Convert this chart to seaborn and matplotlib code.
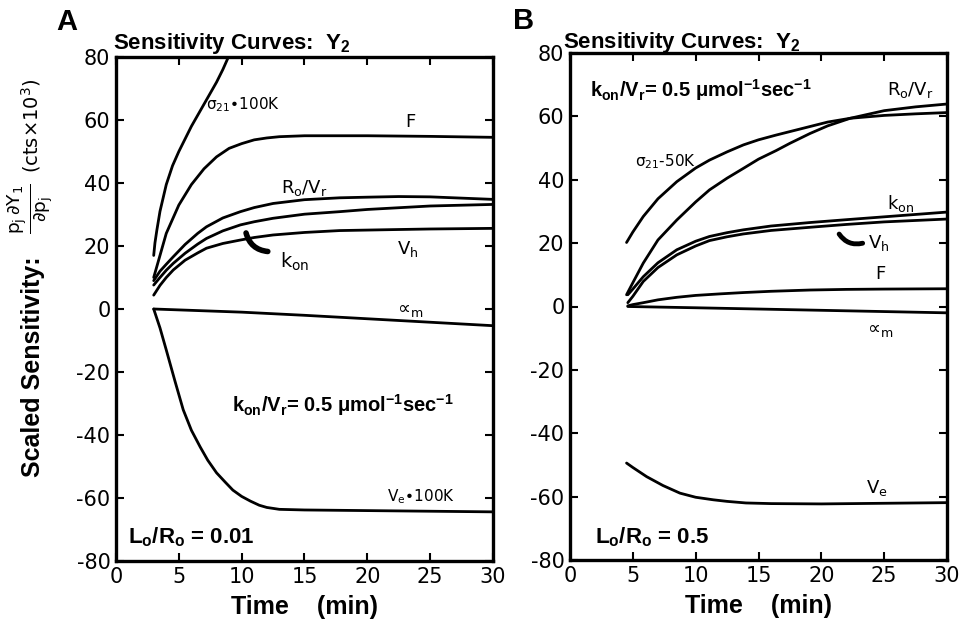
import matplotlib
matplotlib.use('Agg')
import matplotlib.pyplot as plt
import seaborn as sns

# ---- panel A: Lo/Ro = 0.01 ----
sig_a_t = [3.0, 3.1, 3.25, 3.5, 4.0, 4.5, 5.0, 5.5, 6.0, 6.5, 7.0, 7.5, 8.0, 8.5, 9.0]
sig_a_y = [17, 21, 25, 31, 39.5, 45.5, 50, 54, 58, 61.5, 65, 68.5, 72, 76, 80.5]

f_a_t = [3, 3.5, 4, 5, 6, 7, 8, 9, 10, 11, 12, 13, 15, 20, 25, 30]
f_a_y = [10, 17, 24, 33, 39.5, 44.5, 48.3, 51, 52.5, 53.7, 54.3, 54.7, 55, 55, 54.8, 54.5]

ro_a_t = [3, 3.5, 4, 4.56, 5.5, 6.5, 7.2, 8.5, 9.9, 11, 12.5, 15, 17.8, 20, 22.5, 25, 30]
ro_a_y = [9, 12, 14.2, 16.6, 20.5, 24, 26.1, 28.9, 30.9, 32.2, 33.5, 34.7, 35.3, 35.5, 35.7, 35.6, 34.8]

kon_a_t = [3, 3.5, 4, 4.56, 5.5, 6.5, 7.2, 8.5, 9.9, 11, 12.5, 15, 17.8, 20, 25, 30]
kon_a_y = [7.6, 10, 12.3, 14.5, 17.7, 20.6, 22.4, 24.8, 26.7, 27.7, 28.8, 30.1, 30.9, 31.6, 32.7, 33.2]

vh_a_t = [3, 3.5, 4, 4.56, 5.5, 6.5, 7.2, 8.5, 9.9, 11, 12.5, 15, 17.8, 22, 25, 30]
vh_a_y = [4.4, 7.5, 10, 12.4, 15.5, 17.8, 19.3, 20.8, 21.9, 22.7, 23.5, 24.3, 24.9, 25.2, 25.4, 25.6]

am_a_t = [3, 10, 15, 20, 25, 30]
am_a_y = [0, -1.0, -2.0, -3.1, -4.2, -5.3]

ve_a_t = [3, 3.5, 4, 4.7, 5.35, 6, 6.7, 7.3, 8, 8.7, 9.3, 10, 10.7, 11.4, 12, 13, 15, 20, 25, 30]
ve_a_y = [0, -6, -13, -23, -32, -38.5, -43.8, -48, -52, -55, -57.5, -59.5, -61, -62.3, -63, -63.6, -63.8, -64, -64.2, -64.4]

# ---- panel B: Lo/Ro = 0.5 ----
sig_b_t = [4.5, 5, 5.83, 7, 8.5, 10, 11.1, 12.5, 13.8, 15, 16.4, 18, 19.1, 20.5, 22.3, 25, 27.5, 30]
sig_b_y = [20.2, 23.5, 28.4, 34, 39.4, 43.7, 46.2, 48.8, 51, 52.6, 54.1, 55.7, 56.8, 58.2, 59.4, 60.3, 60.8, 61.2]

ro_b_t = [4.5, 5, 5.83, 7, 8.5, 10, 11.1, 12.5, 13.8, 15, 16.4, 17.5, 19.1, 20.5, 22.3, 25, 27.5, 30]
ro_b_y = [3.7, 7.5, 13.7, 21, 27.3, 33, 36.8, 40.5, 43.6, 46.5, 49.2, 51.5, 54.6, 57, 59.4, 61.8, 63, 63.9]

kon_b_t = [4.6, 5, 5.83, 7, 8.5, 10, 11.1, 12.5, 13.8, 16, 19.1, 22, 25, 30]
kon_b_y = [3.7, 5.5, 9.4, 13.8, 17.9, 20.6, 22.1, 23.3, 24.2, 25.4, 26.5, 27.4, 28.3, 29.8]

vh_b_t = [4.6, 5, 5.83, 7, 8.5, 10, 11.1, 12.5, 13.8, 16, 19.1, 22, 25, 30]
vh_b_y = [1.2, 3.2, 7.9, 12.3, 16.3, 19.1, 20.8, 22.0, 22.9, 24.0, 25.0, 25.9, 26.7, 27.6]

f_b_t = [4.6, 5, 5.83, 7, 8.5, 10, 12, 13.8, 16, 19.1, 22, 25, 30]
f_b_y = [0.2, 0.6, 1.2, 2.1, 2.9, 3.5, 4.0, 4.4, 4.8, 5.2, 5.4, 5.5, 5.6]

am_b_t = [4.6, 10, 15, 20, 25, 30]
am_b_y = [0, -0.4, -0.8, -1.2, -1.6, -2.0]

ve_b_t = [4.5, 5, 6.1, 7.4, 8.75, 10, 11.4, 12.5, 14, 16, 20, 25, 30]
ve_b_y = [-49.4, -50.8, -53.7, -56.5, -58.9, -60.2, -61.0, -61.5, -62.0, -62.2, -62.3, -62.1, -61.9]

x_ticks = [0, 5, 10, 15, 20, 25, 30]
y_ticks = [-80, -60, -40, -20, 0, 20, 40, 60, 80]

sns.set_style('ticks')
plt.rcParams['font.family'] = ['DejaVu Sans']
plt.rcParams['mathtext.default'] = 'regular'
plt.rcParams['axes.linewidth'] = 2.4
plt.rcParams['axes.unicode_minus'] = False
for k in ['text.color', 'axes.labelcolor', 'xtick.color', 'ytick.color', 'axes.edgecolor']:
    plt.rcParams[k] = 'black'

BOLD = ['Liberation Sans', 'DejaVu Sans']

fig = plt.figure(figsize=(9.7, 6.31), dpi=100)
ax_a = fig.add_axes([116 / 970, 1 - 561 / 631, 377 / 970, 504 / 631])
ax_b = fig.add_axes([570 / 970, 1 - 560 / 631, 377 / 970, 507 / 631])


def draw(ax, series):
    for t, y in series:
        sns.lineplot(x=t, y=y, ax=ax, color='black', lw=2.0, sort=False)
    ax.set_xlim(0, 30)
    ax.set_ylim(-80, 80)
    ax.set_xticks(x_ticks)
    ax.set_yticks(y_ticks)
    ax.tick_params(direction='in', top=True, right=True, length=6, width=1.5,
                   labelsize=15, pad=4)
    ax.set_xlabel('Time    (min)', fontsize=18, fontweight='bold', family=BOLD, labelpad=6)
    ax.set_ylabel('')
    for s in ax.spines.values():
        s.set_visible(True)


draw(ax_a, [(sig_a_t, sig_a_y), (f_a_t, f_a_y), (ro_a_t, ro_a_y), (kon_a_t, kon_a_y),
            (vh_a_t, vh_a_y), (am_a_t, am_a_y), (ve_a_t, ve_a_y)])
draw(ax_b, [(sig_b_t, sig_b_y), (ro_b_t, ro_b_y), (kon_b_t, kon_b_y), (vh_b_t, vh_b_y),
            (f_b_t, f_b_y), (am_b_t, am_b_y), (ve_b_t, ve_b_y)])

# panel letters and titles
fig.text(67 / 970, 1 - 22 / 631, 'A', fontsize=21, fontweight='bold', family=BOLD, ha='center', va='center')
fig.text(524 / 970, 1 - 21 / 631, 'B', fontsize=21, fontweight='bold', family=BOLD, ha='center', va='center')
fig.text(113 / 970, 1 - 49 / 631, 'Sensitivity Curves:  Y$_2$', fontsize=16, fontweight='bold',
         family=BOLD, ha='left', va='baseline')
fig.text(563 / 970, 1 - 48 / 631, 'Sensitivity Curves:  Y$_2$', fontsize=16, fontweight='bold',
         family=BOLD, ha='left', va='baseline')

# y axis label
fig.text(33 / 970, 1 - 367 / 631, 'Scaled Sensitivity:', rotation=90, fontsize=18, fontweight='bold',
         family=BOLD, ha='center', va='center')
fig.text(30 / 970, 1 - 209 / 631, r'$\frac{p_j\,\partial Y_1}{\partial p_j}$', rotation=90, fontsize=19,
         ha='center', va='center')
fig.text(31 / 970, 1 - 126 / 631, '(cts×10$^3$)', rotation=90, fontsize=14, ha='center', va='center')

# panel A annotations
lab = dict(fontsize=13, ha='center', va='center')
ax_a.text(10.1, 64.8, r'$\sigma_{21}$•100K', fontsize=11, ha='center', va='center')
ax_a.text(23.4, 59.4, 'F', **lab)
ax_a.text(15.0, 38.4, 'R$_o$/V$_r$', fontsize=13, ha='center', va='center')
ax_a.text(14.2, 14.9, 'k$_{on}$', fontsize=14, ha='center', va='center')
ax_a.text(23.2, 19.0, 'V$_h$', **lab)
ax_a.text(23.4, -0.3, '∝$_m$', fontsize=13, ha='center', va='center')
ax_a.text(24.3, -59.7, 'V$_e$•100K', fontsize=11, ha='center', va='center')
ax_a.text(9.2, -30.5, 'k$_{on}$/V$_r$= 0.5 μmol$^{-1}$sec$^{-1}$', fontsize=14.5, fontweight='bold',
          family=BOLD, ha='left', va='center')
ax_a.text(0.95, -72.4, 'L$_o$/R$_o$ = 0.01', fontsize=16, fontweight='bold', family=BOLD,
          ha='left', va='center')
ax_a.annotate('', xy=(10.3, 25.0), xytext=(12.3, 18.2),
              arrowprops=dict(arrowstyle='-', lw=4, color='black', connectionstyle='arc3,rad=-0.4'))

# panel B annotations
ax_b.text(7.6, 45.6, r'$\sigma_{21}$-50K', fontsize=11, ha='center', va='center')
ax_b.text(1.6, 68.3, 'k$_{on}$/V$_r$= 0.5 μmol$^{-1}$sec$^{-1}$', fontsize=14.5, fontweight='bold',
          family=BOLD, ha='left', va='center')
ax_b.text(27.1, 68.3, 'R$_o$/V$_r$', fontsize=13, ha='center', va='center')
ax_b.text(26.3, 32.4, 'k$_{on}$', fontsize=13, ha='center', va='center')
ax_b.text(24.6, 20.0, 'V$_h$', fontsize=13, ha='center', va='center')
ax_b.text(24.7, 10.3, 'F', **lab)
ax_b.text(24.7, -7.4, '∝$_m$', fontsize=13, ha='center', va='center')
ax_b.text(24.4, -57.3, 'V$_e$', **lab)
ax_b.text(2.0, -72.7, 'L$_o$/R$_o$ = 0.5', fontsize=16, fontweight='bold', family=BOLD,
          ha='left', va='center')
ax_b.annotate('', xy=(21.3, 23.6), xytext=(23.5, 20.2),
              arrowprops=dict(arrowstyle='-', lw=3.5, color='black', connectionstyle='arc3,rad=-0.4'))

fig.savefig('out.png', dpi=100)
